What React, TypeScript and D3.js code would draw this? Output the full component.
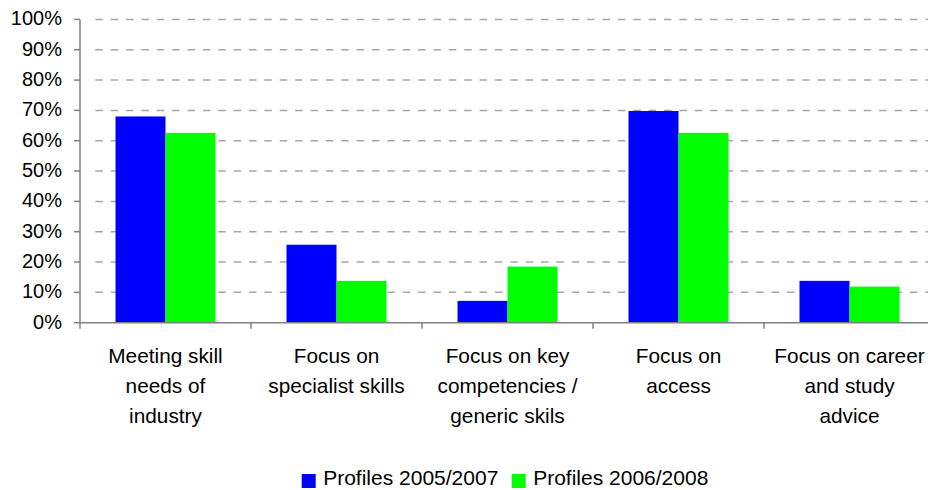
import React from "react";
import * as d3 from "d3";

const categories: string[][] = [
  ["Meeting skill", "needs of", "industry"],
  ["Focus on", "specialist skills"],
  ["Focus on key", "competencies /", "generic skils"],
  ["Focus on", "access"],
  ["Focus on career", "and study", "advice"],
];
const seriesNames = ["Profiles 2005/2007", "Profiles 2006/2008"];
const profiles0507 = [0.68, 0.257, 0.072, 0.698, 0.138];
const profiles0608 = [0.626, 0.138, 0.185, 0.626, 0.119];
const yTicks = [0, 0.1, 0.2, 0.3, 0.4, 0.5, 0.6, 0.7, 0.8, 0.9, 1.0];
const colors = ["#0000ff", "#00ff00"];

const W = 928;
const H = 490;
const FONT = "'Liberation Sans', Arial, sans-serif";

export default function App() {
  const x0 = 80;
  const bw = 171;
  const x = d3
    .scaleBand<number>()
    .domain(categories.map((_, i) => i))
    .range([x0, x0 + bw * categories.length])
    .padding(0);
  const y = d3.scaleLinear().domain([0, 1]).range([322.7, 19.4]);
  const groupW = x.bandwidth() * (100 / 171);
  const xs = d3.scaleBand<number>().domain([0, 1]).range([0, groupW]).padding(0);
  const series = [profiles0507, profiles0608];
  const fmt = d3.format(".0%");
  const xRight = x.range()[1];

  return (
    <svg
      width={W}
      height={H}
      style={{ position: "absolute", left: 0, top: 0, background: "#fff" }}
      fontFamily={FONT}
    >
      {/* gridlines */}
      {yTicks.slice(1).map((t) => (
        <line
          key={"g" + t}
          x1={95.3}
          x2={xRight}
          y1={y(t)}
          y2={y(t)}
          stroke="#a6a6a6"
          strokeWidth={1.5}
          strokeDasharray="7.5 7.87"
        />
      ))}
      {/* bars */}
      {series.map((vals, si) =>
        vals.map((v, ci) => (
          <rect
            key={`b${si}-${ci}`}
            x={(x(ci) as number) + (x.bandwidth() - groupW) / 2 + (xs(si) as number)}
            y={y(v)}
            width={xs.bandwidth()}
            height={y(0) - y(v)}
            fill={colors[si]}
          />
        ))
      )}
      {/* y axis */}
      <line x1={x0} x2={x0} y1={y(1)} y2={y(0)} stroke="#808080" strokeWidth={1.5} />
      {yTicks.map((t) => (
        <g key={"yt" + t}>
          <line x1={x0 - 6} x2={x0} y1={y(t)} y2={y(t)} stroke="#808080" strokeWidth={1.5} />
          <text x={62} y={y(t) + 6} textAnchor="end" fontSize={20} fill="#000">
            {fmt(t)}
          </text>
        </g>
      ))}
      {/* x axis */}
      <line x1={x0} x2={xRight} y1={y(0)} y2={y(0)} stroke="#808080" strokeWidth={1.5} />
      {categories.map((_, i) => (
        <line
          key={"xt" + i}
          x1={x(i) as number}
          x2={x(i) as number}
          y1={y(0)}
          y2={y(0) + 6}
          stroke="#808080"
          strokeWidth={1.5}
        />
      ))}
      {categories.map((lines, i) => (
        <text
          key={"xl" + i}
          x={(x(i) as number) + x.bandwidth() / 2}
          y={362.5}
          textAnchor="middle"
          fontSize={20.8}
          fill="#000"
        >
          {lines.map((l, j) => (
            <tspan key={j} x={(x(i) as number) + x.bandwidth() / 2} dy={j === 0 ? 0 : 30}>
              {l}
            </tspan>
          ))}
        </text>
      ))}
      {/* legend */}
      {seriesNames.map((n, i) => {
        const lx = [301.7, 511.7][i];
        return (
          <g key={"lg" + i}>
            <rect x={lx} y={474} width={14} height={14} fill={colors[i]} />
            <text x={lx + 21.5} y={484.5} fontSize={21} fill="#000">
              {n}
            </text>
          </g>
        );
      })}
    </svg>
  );
}
